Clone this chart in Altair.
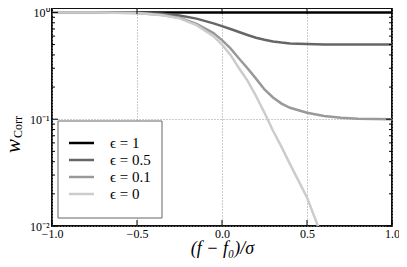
import altair as alt
import pandas as pd

FONT = "Liberation Serif"

# curve samples
x_main = [-1.0, -0.75, -0.5, -0.35, -0.25, -0.15, -0.05, 0.0, 0.05, 0.1, 0.15,
          0.2, 0.25, 0.3, 0.35, 0.4, 0.5, 0.6, 0.7, 0.8, 1.0]
w_eps1 = [1.0] * len(x_main)
w_eps05 = [1.0, 1.0, 0.993, 0.97, 0.935, 0.875, 0.79, 0.745, 0.70, 0.655, 0.615,
           0.58, 0.555, 0.535, 0.522, 0.512, 0.505, 0.502, 0.501, 0.5, 0.5]
w_eps01 = [1.0, 0.999, 0.987, 0.945, 0.89, 0.78, 0.64, 0.55, 0.46, 0.37, 0.30,
           0.24, 0.19, 0.16, 0.14, 0.128, 0.115, 0.107, 0.103, 0.101, 0.1]
x_eps0 = [-1.0, -0.75, -0.5, -0.35, -0.25, -0.15, -0.05, 0.0, 0.05, 0.1, 0.15,
          0.2, 0.25, 0.3, 0.35, 0.4, 0.5, 0.57, 0.6]
w_eps0 = [1.0, 0.999, 0.985, 0.94, 0.88, 0.76, 0.60, 0.50, 0.40, 0.30, 0.23,
          0.165, 0.115, 0.078, 0.055, 0.038, 0.0185, 0.0095, 0.0069]

labels = ["ϵ = 1", "ϵ = 0.5", "ϵ = 0.1", "ϵ = 0"]
colors = ["#000000", "#666666", "#999999", "#cccccc"]

y_major = [0.01, 0.1, 1.0]
y_minor = [0.02, 0.03, 0.04, 0.05, 0.06, 0.07, 0.08, 0.09,
           0.2, 0.3, 0.4, 0.5, 0.6, 0.7, 0.8, 0.9]
x_major = [-1.0, -0.5, 0.0, 0.5, 1.0]

rows = []
for lab, xs, ws in zip(labels, [x_main, x_main, x_main, x_eps0],
                       [w_eps1, w_eps05, w_eps01, w_eps0]):
    for i, (xv, wv) in enumerate(zip(xs, ws)):
        rows.append({"x": xv, "w": wv, "series": lab, "order": i})
df = pd.DataFrame(rows)

W, H = 340, 218
xscale = alt.Scale(domain=[-1, 1], nice=False, zero=False)
yscale = alt.Scale(type="log", domain=[0.01, 1.1], nice=False)
cscale = alt.Scale(domain=labels, range=colors)

lines = alt.Chart(df).mark_line(strokeWidth=2.5, clip=True).encode(
    x=alt.X("x:Q", scale=xscale, axis=alt.Axis(
        values=x_major, format=".1f", grid=True, gridDash=[1, 2], gridColor="#999999",
        ticks=False, domain=False, labelFont=FONT, labelFontSize=12, labelColor="#000",
        labelPadding=2, labelFlush=False, labelOverlap=False,
        title="(f − f₀)/σ", titleFont=FONT, titleFontSize=18, titleFontStyle="italic",
        titleFontWeight="normal", titleColor="#000", titlePadding=0)),
    y=alt.Y("w:Q", scale=yscale, axis=alt.Axis(
        values=y_major,
        labelExpr="datum.value > 0.5 ? '10⁰' : (datum.value > 0.05 ? '10⁻¹' : '10⁻²')",
        grid=True, gridDash=[1, 2], gridColor="#999999", ticks=False, domain=False,
        labelFont=FONT, labelFontSize=12, labelColor="#000", labelPadding=3,
        labelFlush=False, labelOverlap=False, title=None)),
    color=alt.Color("series:N", sort=labels, scale=cscale, legend=None),
    order="order:Q",
)

def yrules(vals, length, right):
    x0 = W - length if right else 0
    return alt.Chart(pd.DataFrame({"w": vals})).mark_rule(color="#000", strokeWidth=1).encode(
        y=alt.Y("w:Q", scale=yscale), x=alt.value(x0), x2=alt.value(x0 + length))

def xrules(vals, length, top):
    y0 = 0 if top else H - length
    return alt.Chart(pd.DataFrame({"x": vals})).mark_rule(color="#000", strokeWidth=1).encode(
        x=alt.X("x:Q", scale=xscale), y=alt.value(y0), y2=alt.value(y0 + length))

# legend drawn by hand
leg_df = pd.DataFrame({"series": labels})
leg_box = alt.Chart(pd.DataFrame({"b": [0]})).mark_rect(
    fill="white", stroke="#666666", strokeWidth=1).encode(
    x=alt.value(6), x2=alt.value(110), y=alt.value(113), y2=alt.value(210))
leg_offset = alt.YOffset("series:N", sort=labels,
                         scale=alt.Scale(type="point", domain=labels, range=[0, 68]))
leg_lines = alt.Chart(leg_df).mark_rule(strokeWidth=2.5).encode(
    x=alt.value(17), x2=alt.value(42), y=alt.value(126.5), yOffset=leg_offset,
    color=alt.Color("series:N", sort=labels, scale=cscale, legend=None))
leg_text = alt.Chart(leg_df).mark_text(
    font=FONT, fontSize=15, align="left", baseline="middle", color="#000").encode(
    x=alt.value(58), y=alt.value(126.5), yOffset=leg_offset, text="series:N")

title_w = alt.Chart(pd.DataFrame({"t": ["w"]})).mark_text(
    font=FONT, fontSize=21, fontStyle="italic", angle=270, align="center",
    baseline="middle", color="#000").encode(
    x=alt.value(-38), y=alt.value(138), text="t:N")
title_sub = alt.Chart(pd.DataFrame({"t": ["Corr"]})).mark_text(
    font=FONT, fontSize=12, angle=270, align="center",
    baseline="middle", color="#000").encode(
    x=alt.value(-34), y=alt.value(119), text="t:N")

chart = alt.layer(
    lines,
    yrules(y_major, 6, False), yrules(y_minor, 3, False),
    yrules(y_major, 6, True), yrules(y_minor, 3, True),
    xrules(x_major, 6, False), xrules(x_major, 6, True),
    leg_box, leg_lines, leg_text,
    title_w, title_sub,
).properties(
    width=W, height=H,
    autosize=alt.AutoSizeParams(type="none"),
    padding={"left": 44, "top": 0, "right": 7, "bottom": 33},
    background="white",
).configure_view(stroke="#111111", strokeWidth=2)

chart.save("out.html", embed_options={"renderer": "svg", "actions": False})
